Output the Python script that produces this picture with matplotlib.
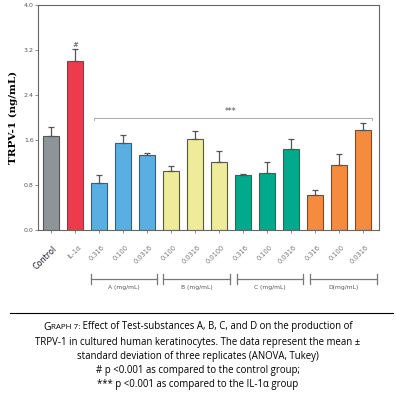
import matplotlib
matplotlib.use('Agg')
import matplotlib.pyplot as plt
import numpy as np

# bar data
labels = ['Control', 'IL-1α', '0.316', '0.100', '0.0316', '0.100', '0.0316', '0.0100',
          '0.316', '0.100', '0.0316', '0.316', '0.100', '0.0316']
means = [1.67, 3.01, 0.83, 1.55, 1.33, 1.05, 1.62, 1.21, 0.97, 1.02, 1.44, 0.62, 1.16, 1.77]
errs = [0.16, 0.21, 0.14, 0.13, 0.04, 0.09, 0.14, 0.19, 0.03, 0.18, 0.17, 0.09, 0.19, 0.14]
colors = ['#8e9497', '#ee3b4b'] + ['#5aaee1'] * 3 + ['#eeec9a'] * 3 + ['#00aa8a'] * 3 + ['#f58b3f'] * 3
groups = ['A (mg/mL)', 'B (mg/mL)', 'C (mg/mL)', 'D(mg/mL)']
yticks = [0.0, 0.8, 1.6, 2.4, 3.2, 4.0]

fig = plt.figure(figsize=(3.96, 4.09), dpi=100)
ax = fig.add_axes([0.096, 0.4377, 0.861, 0.5503])

x = np.arange(len(means))
ax.bar(x, means, width=0.65, color=colors, edgecolor='#555555', linewidth=0.8, zorder=2)
ax.errorbar(x, means, yerr=[np.zeros(len(errs)), errs], fmt='none', ecolor='#555555',
            elinewidth=0.9, capsize=2.5, capthick=0.9, zorder=3)

ax.set_ylim(0, 4.0)
ax.set_xlim(-0.54, 13.67)
ax.set_yticks(yticks)
ax.set_yticklabels([f'{v:.1f}' for v in yticks], fontsize=4.5, color='#555555')
ax.tick_params(axis='y', length=2, width=0.6, color='#777777', pad=1)
ax.tick_params(axis='x', length=2, width=0.6, color='#777777')
for s in ax.spines.values():
    s.set_color('#666666')
    s.set_linewidth(0.8)

ax.set_xticks(x)
ax.set_xticklabels([])
for i, lab in enumerate(labels):
    c = '#1a1a2e' if lab == 'Control' else '#777777'
    fs = 5.8 if lab == 'Control' else 4.8
    ax.text(i + 0.3, -0.25, lab, rotation=45, ha='right', va='top', fontsize=fs,
            color=c, transform=ax.transData)

ax.set_ylabel('TRPV-1 (ng/mL)', family='DejaVu Serif', fontweight='bold', fontsize=7.5, labelpad=4)

# significance marks
ax.text(1, 3.24, '#', ha='center', va='bottom', fontsize=5, color='#444444')
ax.plot([1.8, 13.4], [1.99, 1.99], color='#aaaaaa', lw=0.7)
ax.plot([1.8, 1.8], [1.99, 1.95], color='#aaaaaa', lw=0.7)
ax.plot([13.4, 13.4], [1.99, 1.95], color='#aaaaaa', lw=0.7)
ax.text(7.5, 2.03, '***', ha='center', va='bottom', fontsize=5.5, color='#444444')

# group brackets below the axis
H = 409.0
W = 396.0
spans = [(91, 157), (163, 230), (237, 303), (310, 377)]
for (x0, x1), g in zip(spans, groups):
    yb = 1 - 279 / H
    fig.add_artist(plt.Line2D([x0 / W, x1 / W], [yb, yb], color='#777777', lw=0.9))
    for xx in (x0, x1):
        fig.add_artist(plt.Line2D([xx / W, xx / W], [yb - 0.012, yb + 0.012], color='#777777', lw=0.9))
    fig.text((x0 + x1) / 2 / W, 1 - 287 / H, g, ha='center', va='center', fontsize=4.3, color='#555555')

# caption
fig.add_artist(plt.Line2D([10 / W, 393 / W], [1 - 313 / H, 1 - 313 / H], color='black', lw=0.8))
cap_font = 'Open Sans'
cap_size = 6.9
t1 = fig.text(0, 1 - 327 / H, 'G', fontsize=7.5, family=cap_font, va='center', ha='left')
t2 = fig.text(0, 1 - 327 / H, 'RAPH 7:', fontsize=5.8, family=cap_font, va='center', ha='left')
t3 = fig.text(0, 1 - 327 / H, ' Effect of Test-substances A, B, C, and D on the production of',
              fontsize=cap_size, family=cap_font, va='center', ha='left')
fig.canvas.draw()
r = fig.canvas.get_renderer()
w1 = t1.get_window_extent(r).width
w2 = t2.get_window_extent(r).width
w3 = t3.get_window_extent(r).width
start = (W - (w1 + w2 + w3)) / 2
t1.set_x(start / W)
t2.set_x((start + w1) / W)
t3.set_x((start + w1 + w2) / W)
t2.set_y(1 - 327.5 / H)

rest = ['TRPV-1 in cultured human keratinocytes. The data represent the mean ±',
        'standard deviation of three replicates (ANOVA, Tukey)',
        '# p <0.001 as compared to the control group;',
        '*** p <0.001 as compared to the IL-1α group']
for k, line in enumerate(rest):
    fig.text(0.5, 1 - (342 + 14.2 * k) / H, line, ha='center', va='center', fontsize=cap_size, family=cap_font)

fig.savefig('out.png', dpi=100)
